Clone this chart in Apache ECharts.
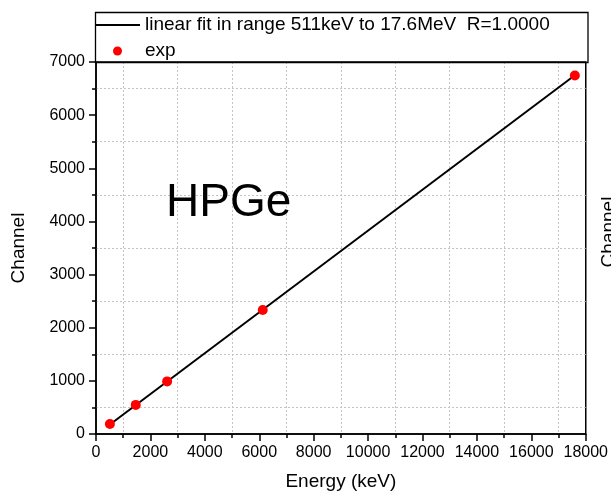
<!DOCTYPE html>
<html>
<head>
<meta charset="utf-8">
<script src="https://cdn.jsdelivr.net/npm/echarts@6/dist/echarts.min.js"></script>
<style>
html,body{margin:0;padding:0;background:#fff;}
#chart{width:611px;height:496px;}
</style>
</head>
<body>
<div id="chart"></div>
<script>
// Data
const energyKeV = [511, 1461, 2614, 6129, 17600];
const channel = [188, 548, 990, 2335, 6745];
const fitEnergy = [511, 17600];
const fitChannel = [180, 6750];
const fitName = 'linear fit in range 511keV to 17.6MeV  R=1.0000';
const expName = 'exp';
const xName = 'Energy (keV)';
const yName = 'Channel';
const panelLabel = 'HPGe';

const FONT = '"Liberation Sans", Arial, sans-serif';

const expData = energyKeV.map((e, i) => [e, channel[i]]);
const fitData = fitEnergy.map((e, i) => [e, fitChannel[i]]);

const chart = echarts.init(document.getElementById('chart'), null, {renderer: 'canvas'});

function axisCommon() {
  return {
    type: 'value',
    axisLine: {show: true, onZero: false, lineStyle: {color: '#000', width: 1.5}},
    axisTick: {show: true, inside: false, length: 7, lineStyle: {color: '#000', width: 1.5}},
    minorTick: {show: true, splitNumber: 2, length: 4, lineStyle: {color: '#000', width: 1.5}},
    splitLine: {show: false},
    minorSplitLine: {show: true, lineStyle: {color: '#c4c4c4', type: [2, 2], width: 1}},
    axisLabel: {fontSize: 16, color: '#000', margin: 11, fontFamily: FONT, formatter: v => String(v)},
    nameLocation: 'middle',
    nameTextStyle: {fontSize: 19, color: '#000', fontFamily: FONT}
  };
}

const option = {
  backgroundColor: '#fff',
  animation: false,
  grid: {left: 96, right: 25, top: 62, bottom: 62, show: true, borderColor: '#000', borderWidth: 1.5, backgroundColor: 'transparent'},
  xAxis: Object.assign(axisCommon(), {min: 0, max: 18000, interval: 2000, name: xName, nameGap: 38}),
  yAxis: Object.assign(axisCommon(), {min: 0, max: 7000, interval: 1000, name: yName, nameGap: 68}),
  legend: {
    orient: 'vertical',
    left: 95,
    top: 15,
    padding: 0,
    itemWidth: 45,
    itemHeight: 9,
    itemGap: 6,
    textStyle: {fontSize: 19, color: '#000', fontFamily: FONT, lineHeight: 20},
    data: [
      {name: fitName, icon: 'path://M0,0 L45,0 L45,2 L0,2 Z', itemStyle: {color: '#000'}},
      {name: expName, icon: 'circle'}
    ]
  },
  series: [
    {
      name: fitName,
      type: 'line',
      data: fitData,
      symbol: 'none',
      lineStyle: {color: '#000', width: 2},
      itemStyle: {color: '#000'},
      z: 2
    },
    {
      name: expName,
      type: 'scatter',
      data: expData,
      symbol: 'circle',
      symbolSize: 10,
      itemStyle: {color: '#ff0000', opacity: 1},
      z: 3
    }
  ],
  graphic: [
    {
      type: 'rect',
      shape: {x: 95.5, y: 12.5, width: 492.5, height: 50},
      style: {fill: 'none', stroke: '#000', lineWidth: 1.3},
      silent: true,
      z: 100
    },
    {
      type: 'text',
      x: 166,
      y: 203,
      style: {text: panelLabel, fontSize: 46, fill: '#000', fontFamily: FONT, align: 'left', verticalAlign: 'middle'},
      z: 100
    },
    {
      type: 'text',
      x: 609,
      y: 232,
      rotation: Math.PI / 2,
      style: {text: yName, fontSize: 19, fill: '#000', fontFamily: FONT, align: 'center', verticalAlign: 'middle'},
      z: 100
    }
  ]
};

chart.setOption(option);
</script>
</body>
</html>
